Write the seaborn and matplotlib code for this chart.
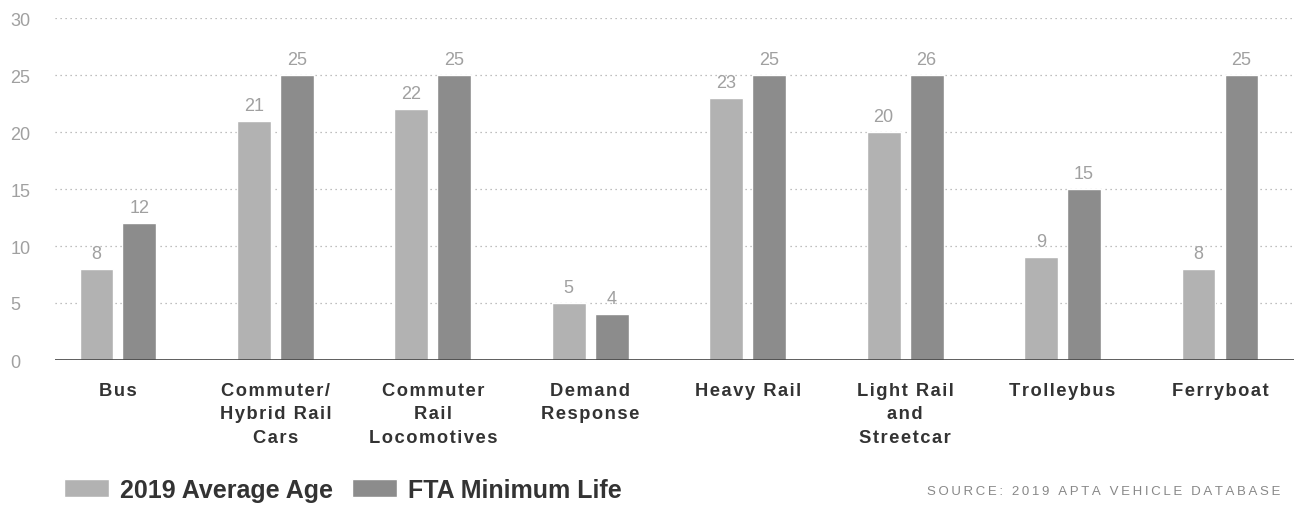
import matplotlib
matplotlib.use("Agg")
import matplotlib.pyplot as plt
import seaborn as sns
import pandas as pd

categories = ["Bus", "Commuter/\nHybrid Rail\nCars", "Commuter\nRail\nLocomotives",
              "Demand\nResponse", "Heavy Rail", "Light Rail\nand\nStreetcar",
              "Trolleybus", "Ferryboat"]
avg_age = [8, 21, 22, 5, 23, 20, 9, 8]
min_life = [12, 25, 25, 4, 25, 25, 15, 25]
avg_labels = ["8", "21", "22", "5", "23", "20", "9", "8"]
min_labels = ["12", "25", "25", "4", "25", "26", "15", "25"]
series = ["2019 Average Age", "FTA Minimum Life"]
source = "SOURCE: 2019 APTA VEHICLE DATABASE"

df = pd.DataFrame({
    "category": categories * 2,
    "series": [series[0]] * len(categories) + [series[1]] * len(categories),
    "value": avg_age + min_life,
})


def spaced(s, sep="\u200a"):
    # fake letter spacing
    return "\n".join(sep.join(line) for line in s.split("\n"))


sns.set_style("white")
plt.rcParams["font.family"] = ["Liberation Sans", "DejaVu Sans"]

fig = plt.figure(figsize=(12.94, 5.10), dpi=100)
ax = fig.add_axes([55 / 1294, 1 - 361 / 510, 1 - 55 / 1294, (361 - 19) / 510])

sns.barplot(data=df, x="category", y="value", hue="series", order=categories,
            hue_order=series, palette=["#b2b2b2", "#8c8c8c"], width=0.546,
            gap=0.21, saturation=1, ax=ax, legend=True)

ax.set_ylim(0, 30)
ax.set_xlim(-0.40, 7.47)
ax.set_yticks(range(0, 31, 5))
ax.yaxis.grid(True, linestyle=(0, (1, 3)), color="#aaaaaa", linewidth=0.9)
ax.set_axisbelow(True)
for s in ax.spines.values():
    s.set_visible(False)
ax.axhline(0, color="#444444", linewidth=1.2, zorder=5)

ax.set_xticks(range(len(categories)))
ax.set_xticklabels([spaced(c) for c in categories], fontsize=13.2,
                   fontweight="bold", color="#333333", linespacing=1.48, va="top")
ax.tick_params(axis="y", length=0, labelsize=13, labelcolor="#a0a0a0", pad=32)
ax.tick_params(axis="x", length=0, pad=16)
for t in ax.get_yticklabels():
    t.set_horizontalalignment("left")
ax.set_xlabel("")
ax.set_ylabel("")

for cont, labs in zip(ax.containers, [avg_labels, min_labels]):
    ax.bar_label(cont, labels=labs, padding=5, fontsize=13, color="#a0a0a0")

handles, labels = ax.get_legend_handles_labels()
ax.legend_.remove()
fig.legend(handles, labels, loc="center left", bbox_to_anchor=(41 / 1294, 1 - 491 / 510),
           ncol=2, frameon=False, handlelength=1.8, handleheight=0.75,
           handletextpad=0.45, columnspacing=0.75,
           prop={"weight": "bold", "size": 18})
for t in fig.legends[0].get_texts():
    t.set_color("#333333")

fig.text(1280 / 1294, 1 - 492 / 510, spaced(source, "\u2009"),
         ha="right", va="center", fontsize=9.5, color="#888888")

fig.savefig("out.png", dpi=100)
